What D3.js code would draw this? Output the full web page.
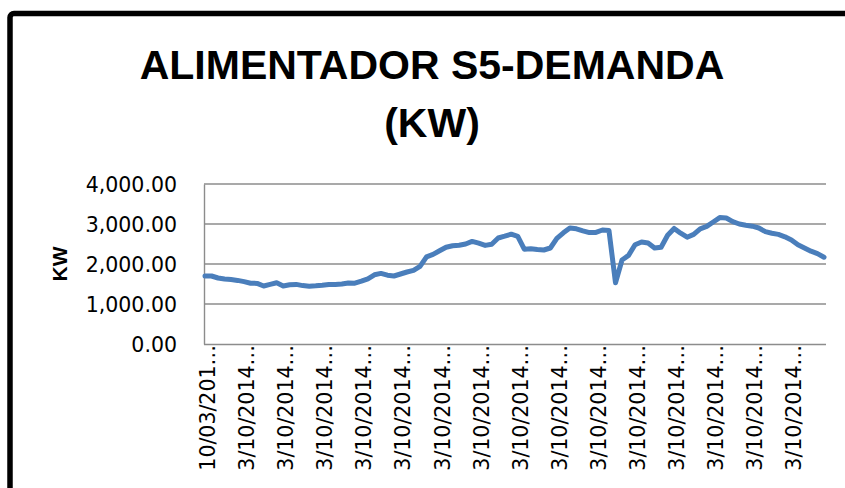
<!DOCTYPE html>
<html><head><meta charset="utf-8">
<script src="https://cdn.jsdelivr.net/npm/d3@7"></script>
<style>html,body{margin:0;padding:0;background:#fff;overflow:hidden}</style>
</head><body>
<svg id="c" width="845" height="488"></svg>
<script>
const titleLines = ["ALIMENTADOR S5-DEMANDA", "(KW)"];
const yAxisTitle = "KW";
const yTicks = [0, 1000, 2000, 3000, 4000];
const tickLabels = ["10/03/201…", "3/10/2014…", "3/10/2014…", "3/10/2014…", "3/10/2014…", "3/10/2014…",
  "3/10/2014…", "3/10/2014…", "3/10/2014…", "3/10/2014…", "3/10/2014…", "3/10/2014…",
  "3/10/2014…", "3/10/2014…", "3/10/2014…", "3/10/2014…"];
const labelStep = 6;
const demand = [
  1700,1700,1650,1625,1610,1590,1560,1520,1515,1450,
  1490,1530,1450,1480,1490,1460,1445,1455,1470,1490,
  1485,1500,1525,1520,1570,1630,1730,1765,1720,1700,
  1750,1800,1840,1940,2180,2240,2330,2420,2455,2470,
  2500,2565,2520,2465,2495,2650,2695,2745,2690,2370,
  2380,2360,2350,2400,2640,2780,2900,2880,2830,2785,
  2790,2850,2835,1530,2100,2215,2480,2550,2525,2400,
  2420,2720,2890,2770,2670,2740,2880,2940,3050,3160,
  3150,3060,3000,2970,2945,2900,2810,2770,2740,2680,
  2600,2480,2400,2320,2260,2170
];

const svg = d3.select("#c");
const plot = {left: 204, right: 826, top: 184, bottom: 344};
const gridColor = "#8c8c8c";
const lineColor = "#4a7ebb";
const tickFont = "DejaVu Sans, sans-serif";

// outer frame (extends beyond the visible picture)
svg.append("rect").attr("x", 10).attr("y", 13.5).attr("width", 900).attr("height", 600)
  .attr("rx", 4).attr("fill", "#fff").attr("stroke", "#000").attr("stroke-width", 5.5);

// title
const tl = [79, 137];
titleLines.forEach((t, i) => {
  svg.append("text").attr("x", 432).attr("y", tl[i]).attr("text-anchor", "middle")
    .attr("font-family", "Liberation Sans, Arial, sans-serif").attr("font-weight", "bold")
    .attr("font-size", 41).attr("fill", "#000").text(t);
});

const x = d3.scaleLinear().domain([0, demand.length - 1]).range([plot.left + 1, plot.right - 2]);
const y = d3.scaleLinear().domain([0, 4000]).range([plot.bottom, plot.top]);

// gridlines
svg.append("g").selectAll("line").data(yTicks.filter(d => d > 0)).join("line")
  .attr("x1", plot.left).attr("x2", plot.right)
  .attr("y1", d => y(d)).attr("y2", d => y(d))
  .attr("stroke", gridColor).attr("stroke-width", 1.4);

// y axis
const yAxis = svg.append("g").attr("transform", `translate(${plot.left},0)`)
  .call(d3.axisLeft(y).tickValues(yTicks).tickFormat(d3.format(",.2f")).tickSize(0).tickPadding(27));
yAxis.select(".domain").attr("stroke", gridColor).attr("stroke-width", 1.4);
yAxis.selectAll("text").attr("font-family", tickFont).attr("font-size", 20.5)
  .attr("fill", "#000").attr("dy", "0.36em");

// x axis
const xTickVals = tickLabels.map((_, i) => i * labelStep);
const xAxis = svg.append("g").attr("transform", `translate(0,${plot.bottom})`)
  .call(d3.axisBottom(x).tickValues(xTickVals).tickFormat((d, i) => tickLabels[i]).tickSize(0));
xAxis.select(".domain").attr("d", `M${plot.left},0.5H${plot.right}`)
  .attr("stroke", gridColor).attr("stroke-width", 1.4);
xAxis.selectAll("text")
  .attr("font-family", tickFont).attr("font-size", 20.5).attr("fill", "#000")
  .attr("text-anchor", "end").attr("transform", "rotate(-90)")
  .attr("x", -1).attr("y", 0).attr("dy", "9.5");

// y axis title
svg.append("text").attr("transform", "translate(67,264) rotate(-90)").attr("text-anchor", "middle")
  .attr("font-family", "Liberation Sans, Arial, sans-serif").attr("font-weight", "bold")
  .attr("font-size", 21).attr("fill", "#000").text(yAxisTitle);

// line
svg.append("path").datum(demand)
  .attr("d", d3.line().x((d, i) => x(i)).y(d => y(d)))
  .attr("fill", "none").attr("stroke", lineColor).attr("stroke-width", 5)
  .attr("stroke-linejoin", "round").attr("stroke-linecap", "round");
</script>
</body></html>
